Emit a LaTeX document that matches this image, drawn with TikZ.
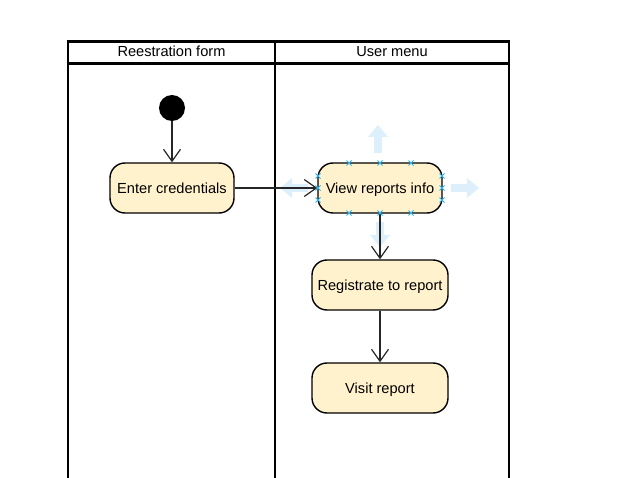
\documentclass[tikz,border=0pt]{standalone}
\usepackage{fontspec}
\setmainfont{Liberation Sans}
\usetikzlibrary{arrows.meta}
\definecolor{actfill}{HTML}{FFF2CC}
\definecolor{hintblue}{HTML}{DCEFFB}
\definecolor{handleblue}{HTML}{29B6F2}
\tikzset{
  lane/.style={draw=black, line width=2.5pt},
  activity/.style={draw=black, fill=actfill, line width=1.4pt, rounded corners=15pt,
    minimum height=50pt, inner sep=0pt, text height=10.4pt, text depth=0pt,
    font=\fontsize{14.6}{17}\selectfont},
  flow/.style={draw=black!85, line width=1.2pt, -{Straight Barb[length=12pt,width=17pt,line width=1.2pt]}},
  lanetitle/.style={font=\fontsize{14.6}{17}\selectfont, inner sep=0pt, text height=10.4pt, text depth=0pt},
  hint/.style={fill=hintblue, draw=none},
  handle/.style={draw=handleblue, line width=0.9pt}
}
\begin{document}
\begin{tikzpicture}[x=1pt,y=-1pt]
\useasboundingbox (0,0) rectangle (624,478);
% swimlanes
\draw[lane] (68,478) -- (68,41.5) -- (509,41.5) -- (509,478);
\draw[lane] (275,41.5) -- (275,478);
\draw[lane] (68,63.5) -- (509,63.5);
\node[lanetitle] (t1) at (171.5,51) {Reestration form};
\node[lanetitle] (t2) at (392,51) {User menu};
% selection hints (behind)
\fill[hint] (378,125) -- (388,137) -- (382,137) -- (382,153) -- (374,153) -- (374,137) -- (368,137) -- cycle;
\fill[hint] (479,188) -- (467,178) -- (467,184) -- (451,184) -- (451,192) -- (467,192) -- (467,198) -- cycle;
\fill[hint] (280,188) -- (292,178) -- (292,184) -- (308,184) -- (308,192) -- (292,192) -- (292,198) -- cycle;
\fill[hint] (380,247) -- (390,235) -- (384,235) -- (384,222) -- (376,222) -- (376,235) -- (370,235) -- cycle;
% nodes
\node[circle, fill=black, minimum size=26pt, inner sep=0pt] (start) at (172,108) {};
\node[activity, minimum width=124pt] (enter) at (172,188) {Enter credentials};
\node[activity, minimum width=124pt] (view) at (380,188) {View reports info};
\node[activity, minimum width=136pt] (reg) at (380,285) {Registrate to report};
\node[activity, minimum width=136pt] (visit) at (380,388) {Visit report};
% flows
\draw[flow] (start) -- (enter);
\draw[flow] (enter) -- (view);
\draw[flow] (view) -- (reg);
\draw[flow] (reg) -- (visit);
% selection handles
\foreach \px/\py in {349/163,380/163,411/163,349/213,380/213,411/213,318/176,318/188,318/200,442/176,442/188,442/200}{
  \draw[handle] (\px-2.5,\py-2.5) -- (\px+2.5,\py+2.5) (\px-2.5,\py+2.5) -- (\px+2.5,\py-2.5);
}
\end{tikzpicture}
\end{document}
